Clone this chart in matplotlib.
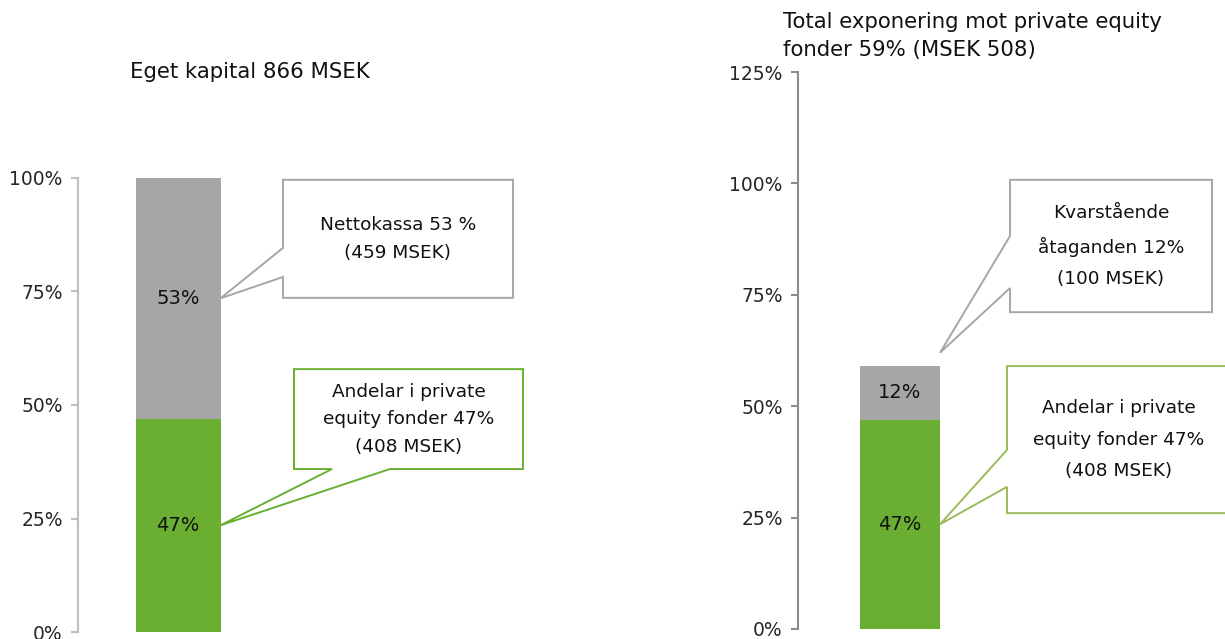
import matplotlib.pyplot as plt
import numpy as np
from matplotlib.patches import Polygon
from matplotlib.ticker import FuncFormatter

# data
left_title = "Eget kapital 866 MSEK"
left_segments = ["Andelar i private equity fonder", "Nettokassa"]
left_values = [0.47, 0.53]
left_labels = ["47%", "53%"]
left_callouts = ["Andelar i private\nequity fonder 47%\n(408 MSEK)", "Nettokassa 53 %\n(459 MSEK)"]

right_title = "Total exponering mot private equity\nfonder 59% (MSEK 508)"
right_segments = ["Andelar i private equity fonder", "Kvarstående åtaganden"]
right_values = [0.47, 0.12]
right_labels = ["47%", "12%"]
right_callouts = ["Andelar i private\nequity fonder 47%\n(408 MSEK)", "Kvarstående\nåtaganden 12%\n(100 MSEK)"]

GREEN = "#6AAF32"
GREY = "#A6A6A6"
W, H = 1225, 639

plt.rcParams["font.family"] = ["DejaVu Sans"]


def callout(ax, box, tip, base, side, color, text, spacing=1.68):
    x0, x1, y0, y1 = box  # y0 bottom, y1 top
    b1, b2 = base
    if side == "left":
        verts = [(x0, y1), (x1, y1), (x1, y0), (x0, y0), (x0, b2), tip, (x0, b1)]
    else:  # bottom
        verts = [(x0, y1), (x1, y1), (x1, y0), (b2, y0), tip, (b1, y0), (x0, y0)]
    poly = Polygon(verts, closed=True, facecolor="white", edgecolor=color,
                   linewidth=1.4, clip_on=False, zorder=3, joinstyle="miter")
    ax.add_patch(poly)
    ax.text((x0 + x1) / 2, (y0 + y1) / 2, text, ha="center", va="center",
            fontsize=13.3, linespacing=spacing, color="#111111", zorder=4, clip_on=False)


def style_axis(ax, ymax, spine_color):
    for s in ["top", "right", "bottom"]:
        ax.spines[s].set_visible(False)
    ax.spines["left"].set_color(spine_color)
    ax.spines["left"].set_linewidth(1.5)
    ax.set_ylim(0, ymax)
    ax.set_yticks(np.arange(0, ymax + 0.001, 0.25))
    ax.yaxis.set_major_formatter(FuncFormatter(lambda v, _: f"{v * 100:.0f}%"))
    ax.tick_params(axis="y", colors=spine_color, labelcolor="#262626", labelsize=13.5,
                   length=5, width=1.5, pad=6)
    ax.set_xticks([])


def stacked_bar(ax, values, labels, width):
    colors = [GREEN, GREY]
    bottom = 0.0
    mids = []
    for v, lab, c in zip(values, labels, colors):
        ax.bar(0, v, width=width, bottom=bottom, color=c, zorder=2)
        mids.append(bottom + v / 2)
        ax.text(0, bottom + v / 2, lab, ha="center", va="center", fontsize=14, color="#111111", zorder=3)
        bottom += v
    return mids


fig = plt.figure(figsize=(W / 100, H / 100), dpi=100)

# left panel: spine at x=78px, 0 at y=632px, 100% at y=178px
axl = fig.add_axes([78 / W, (H - 632) / H, (600 - 78) / W, (632 - 178) / H])
axl.set_xlim(-1.0, 4.22)
style_axis(axl, 1.0, "#BFBFBF")
mids_l = stacked_bar(axl, left_values, left_labels, 0.85)
edge_l = 0.425
callout(axl, (1.16, 3.45, 0.359, 0.579), (edge_l, mids_l[0]), (1.54, 2.12), "bottom", GREEN, left_callouts[0])
callout(axl, (1.05, 3.35, 0.736, 0.996), (edge_l, mids_l[1]), (0.846, 0.782), "left", GREY, left_callouts[1])
fig.text(130 / W, 1 - 72 / H, left_title, ha="left", va="center", fontsize=15.3, color="#111111")

# right panel: spine at x=798px, 0 at y=629px, 125% at y=72px
axr = fig.add_axes([798 / W, (H - 629) / H, (W - 798) / W, (629 - 72) / H])
axr.set_xlim(-1.02, 3.25)
style_axis(axr, 1.25, "#8C8C8C")
mids_r = stacked_bar(axr, right_values, right_labels, 0.8)
edge_r = 0.40
callout(axr, (1.07, 3.30, 0.260, 0.590), (edge_r, mids_r[0]), (0.402, 0.319), "left", "#9BBB59",
        right_callouts[0], spacing=1.95)
callout(axr, (1.10, 3.12, 0.711, 1.008), (edge_r, sum(right_values) + 0.03), (0.882, 0.765), "left", GREY,
        right_callouts[1], spacing=1.95)
fig.text(783 / W, 1 - 36 / H, right_title, ha="left", va="center", fontsize=15.3,
         linespacing=1.45, color="#111111")

fig.savefig("out.png", dpi=100)
